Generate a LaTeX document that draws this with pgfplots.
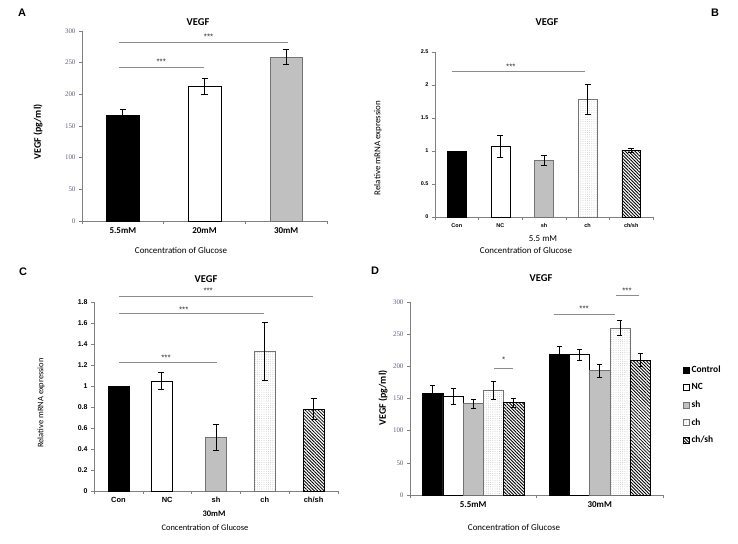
\documentclass[border=0pt]{standalone}
\usepackage{fontspec}
\setmainfont{Carlito}
\newfontfamily\arial{Liberation Sans}
\newfontfamily\mincho{Liberation Serif}
\usepackage{pgfplots}
\pgfplotsset{compat=1.18}
\usetikzlibrary{patterns.meta}

\definecolor{ticgray}{RGB}{95,100,125}
\definecolor{silver}{RGB}{192,192,192}
\definecolor{sigline}{RGB}{140,140,140}
\definecolor{axgray}{RGB}{128,128,128}

\tikzset{star/.style={font=\arial\fontsize{8}{8}\selectfont, text=black!80}}

\pgfplotsset{
  panel/.style={
    scale only axis, anchor=south west, clip=false,
    ybar, ymin=0,
    axis x line*=bottom, axis y line*=left,
    axis line style={draw=axgray, line width=0.6bp},
    tick align=outside,
    major tick length=3bp, minor tick length=3bp,
    major x tick style={draw=none},
    minor x tick style={draw=axgray, line width=0.6bp},
    major y tick style={draw=axgray, line width=0.6bp},
    /pgf/number format/assume math mode=true,
  },
  serifticks/.style={yticklabel style={font=\mincho\fontsize{7}{8}\selectfont, text=ticgray}},
  eb/.style={error bars/.cd, y dir=both, y explicit, error mark=|,
    error bar style={draw=black, line width=0.7bp},
    error mark options={draw=black, mark size=3bp, line width=0.7bp}},
  ebs/.style={error bars/.cd, y dir=both, y explicit, error mark=|,
    error bar style={draw=black, line width=0.6bp},
    error mark options={draw=black, mark size=2.5bp, line width=0.6bp}},
  conbar/.style={fill=black, draw=black},
  ncbar/.style={fill=white, draw=black},
  shbar/.style={fill=silver, draw=black!55},
  chbar/.style={pattern={Dots[distance=2.2bp, radius=0.35bp]}, pattern color=gray!70, draw=black!55},
  chshbar/.style={pattern={Lines[angle=-45, distance=2.3bp, line width=0.85bp]}, pattern color=black, draw=black},
}

\begin{document}
\begin{tikzpicture}
\useasboundingbox (0,0) rectangle (738bp,544bp);

% ---------- A ----------
\begin{axis}[panel, serifticks, at={(82bp,323bp)}, width=245bp, height=190bp,
  xmin=-0.5, xmax=2.5, ymax=300, ytick={0,50,...,300},
  xtick={0,1,2}, xticklabels={5.5mM,20mM,30mM}, minor xtick={-0.5,0.5,1.5,2.5},
  xticklabel style={font=\bfseries\fontsize{9}{10}\selectfont},
  bar width=0.4]
\addplot[conbar, bar shift=0, eb] coordinates {(0,167) +- (0,9)};
\addplot[ncbar, bar shift=0, eb] coordinates {(1,213) +- (0,13)};
\addplot[shbar, bar shift=0, eb] coordinates {(2,259) +- (0,12)};
\draw[sigline, line width=0.6bp] (-0.05,243) -- (0.99,243);
\node[star] at (0.47,252) {***};
\draw[sigline, line width=0.6bp] (-0.05,282) -- (2.02,282);
\node[star] at (1.05,291) {***};
\end{axis}
\node[font=\bfseries\fontsize{10.5}{12}\selectfont] at (198bp,522bp) {VEGF};
\node[rotate=90, font=\bfseries\fontsize{10}{12}\selectfont] at (38bp,412bp) {VEGF (pg/ml)};
\node[font=\fontsize{9}{10}\selectfont] at (181bp,294bp) {Concentration of Glucose};
\node[font=\arial\bfseries\fontsize{11}{12}\selectfont] at (22bp,531bp) {A};

% ---------- B ----------
\begin{axis}[panel, at={(435bp,327bp)}, width=218bp, height=165bp,
  xmin=-0.5, xmax=4.5, ymax=2.5, ytick={0,0.5,1,1.5,2,2.5},
  xtick={0,1,2,3,4}, xticklabels={Con,NC,sh,ch,ch/sh},
  minor xtick={-0.5,0.5,1.5,2.5,3.5,4.5},
  yticklabel style={font=\arial\bfseries\fontsize{5.5}{6}\selectfont},
  xticklabel style={font=\arial\bfseries\fontsize{5.5}{6}\selectfont},
  bar width=0.43]
\addplot[conbar, bar shift=0] coordinates {(0,1)};
\addplot[ncbar, bar shift=0, eb] coordinates {(1,1.07) +- (0,0.165)};
\addplot[shbar, bar shift=0, eb] coordinates {(2,0.86) +- (0,0.08)};
\addplot[chbar, bar shift=0, eb] coordinates {(3,1.78) +- (0,0.225)};
\addplot[chshbar, bar shift=0, eb] coordinates {(4,1.01) +- (0,0.035)};
\draw[sigline, line width=0.6bp] (-0.11,2.21) -- (2.94,2.21);
\node[star] at (1.24,2.27) {***};
\end{axis}
\node[font=\bfseries\fontsize{10.5}{12}\selectfont] at (547bp,522bp) {VEGF};
\node[rotate=90, font=\fontsize{9}{10}\selectfont] at (378bp,396bp) {Relative mRNA expression};
\node[font=\fontsize{9}{10}\selectfont] at (543bp,305bp) {5.5 mM};
\node[font=\fontsize{9}{10}\selectfont] at (526bp,294bp) {Concentration of Glucose};
\node[font=\arial\bfseries\fontsize{11}{12}\selectfont] at (715bp,531bp) {B};

% ---------- C ----------
\begin{axis}[panel, at={(94bp,53bp)}, width=244bp, height=189bp,
  xmin=-0.5, xmax=4.5, ymax=1.8, ytick={0,0.2,0.4,0.6,0.8,1,1.2,1.4,1.6,1.8},
  xtick={0,1,2,3,4}, xticklabels={Con,NC,sh,ch,ch/sh},
  minor xtick={-0.5,0.5,1.5,2.5,3.5,4.5},
  yticklabel style={font=\arial\bfseries\fontsize{7}{8}\selectfont},
  xticklabel style={font=\arial\bfseries\fontsize{7.5}{8}\selectfont},
  bar width=0.43]
\addplot[conbar, bar shift=0] coordinates {(0,1)};
\addplot[ncbar, bar shift=-0.12, eb] coordinates {(1,1.05) +- (0,0.08)};
\addplot[shbar, bar shift=0, eb] coordinates {(2,0.51) +- (0,0.125)};
\addplot[chbar, bar shift=0, eb] coordinates {(3,1.33) +- (0,0.275)};
\addplot[chshbar, bar shift=0, eb] coordinates {(4,0.78) +- (0,0.1)};
\draw[sigline, line width=0.6bp] (0.01,1.229) -- (2.02,1.229);
\node[star] at (0.975,1.265) {***};
\draw[sigline, line width=0.6bp] (0.01,1.695) -- (2.98,1.695);
\node[star] at (1.34,1.73) {***};
\draw[sigline, line width=0.6bp] (0.01,1.857) -- (3.99,1.857);
\node[star] at (1.84,1.905) {***};
\end{axis}
\node[font=\bfseries\fontsize{10.5}{12}\selectfont] at (206bp,265bp) {VEGF};
\node[rotate=90, font=\fontsize{8.5}{10}\selectfont] at (41bp,141bp) {Relative mRNA expression};
\node[font=\bfseries\fontsize{8.5}{10}\selectfont] at (214bp,30bp) {30mM};
\node[font=\fontsize{8.5}{10}\selectfont] at (205bp,16bp) {Concentration of Glucose};
\node[font=\arial\bfseries\fontsize{11}{12}\selectfont] at (23bp,272bp) {C};

% ---------- D ----------
\begin{axis}[panel, serifticks, at={(410bp,49bp)}, width=253bp, height=193bp,
  xmin=-0.5, xmax=1.5, ymax=300, ytick={0,50,...,300},
  xtick={0,1}, xticklabels={5.5mM,30mM}, minor xtick={-0.5,0.5,1.5},
  xticklabel style={font=\bfseries\fontsize{9}{10}\selectfont},
  bar width=0.16,
  legend style={draw=none, fill=none, at={(1.067,0.69)}, anchor=north west,
    font=\bfseries\fontsize{9.5}{10}\selectfont, row sep=5.5bp},
  legend cell align=left,
  legend image code/.code={\draw[#1] (0bp,-3bp) rectangle (6bp,3bp);}]
\addplot[conbar, bar shift=-0.32, ebs] coordinates {(0,158) +- (0,12.5) (1,218.5) +- (0,13)};
\addplot[ncbar, bar shift=-0.16, ebs] coordinates {(0,154) +- (0,12.5) (1,218.5) +- (0,8.5)};
\addplot[shbar, bar shift=0, ebs] coordinates {(0,142.5) +- (0,7) (1,193.5) +- (0,10)};
\addplot[chbar, bar shift=0.16, ebs] coordinates {(0,163.5) +- (0,14) (1,260) +- (0,12)};
\addplot[chshbar, bar shift=0.32, ebs] coordinates {(0,143.5) +- (0,7) (1,209.5) +- (0,10)};
\legend{Control,NC,sh,ch,ch/sh}
\draw[sigline, line width=0.6bp] (0.164,196.6) -- (0.314,196.6);
\node[star] at (0.24,210) {*};
\draw[sigline, line width=0.6bp] (0.638,281) -- (1.12,281);
\node[star] at (0.876,289) {***};
\draw[sigline, line width=0.6bp] (1.128,310) -- (1.31,310);
\node[star] at (1.215,318) {***};
\end{axis}
\node[font=\bfseries\fontsize{10.5}{12}\selectfont] at (541bp,266bp) {VEGF};
\node[rotate=90, font=\bfseries\fontsize{10}{12}\selectfont] at (383bp,146bp) {VEGF (pg/ml)};
\node[font=\fontsize{9}{10}\selectfont] at (514bp,17bp) {Concentration of Glucose};
\node[font=\arial\bfseries\fontsize{11}{12}\selectfont] at (375bp,273bp) {D};
\end{tikzpicture}
\end{document}
